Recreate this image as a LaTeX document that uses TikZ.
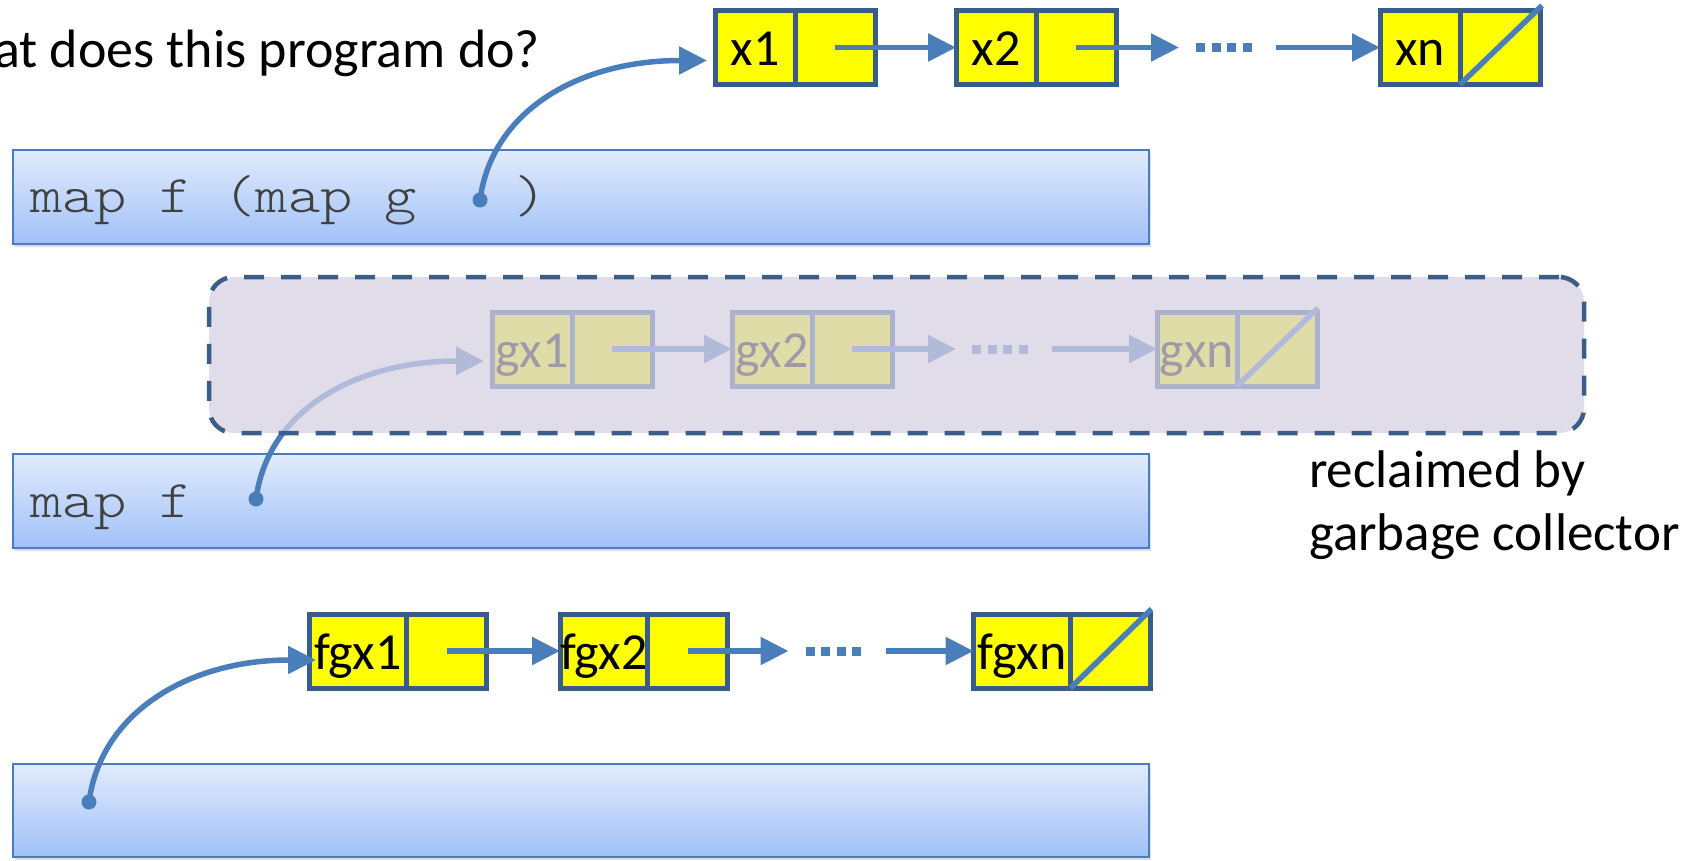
\documentclass[tikz,border=0pt]{standalone}
\usepackage{fontspec}
\setmainfont{Carlito}
\newfontfamily\codefont[FakeStretch = 1.16]{lmmonolt10-regular.otf}
\usetikzlibrary{positioning,arrows.meta,shadows}

\definecolor{cellfill}{RGB}{255,255,0}
\definecolor{cellline}{RGB}{56,93,138}
\definecolor{linkblue}{RGB}{74,126,187}
\definecolor{progtop}{RGB}{225,235,253}
\definecolor{progbottom}{RGB}{160,193,248}
\definecolor{codegray}{RGB}{64,64,64}
\definecolor{gcfill}{RGB}{214,208,227}
\definecolor{gcline}{RGB}{59,93,138}

\tikzset{
    every node/.style = {
        inner sep = 0pt,
        outer sep = 0pt
    },
    valcell/.style = {
        anchor = west,
        draw = cellline,
        line width = 5pt,
        fill = cellfill,
        minimum width = 80pt,
        minimum height = 74pt,
        text height = 37pt,
        text depth = 0pt
    },
    ptrcell/.style = {
        valcell
    },
    link/.style = {
        -{Triangle[length = 28pt, width = 27pt]},
        draw = linkblue,
        line width = 5.5pt
    },
    nil/.style = {
        draw = linkblue,
        line width = 5.5pt
    },
    dotsgap/.style = {
        minimum width = 56pt
    },
    dotline/.style = {
        draw = linkblue,
        line width = 9pt,
        dash pattern = on 9pt off 6.6pt
    },
    prog/.style = {
        anchor = north west,
        draw = linkblue,
        line width = 2pt,
        top color = progtop,
        bottom color = progbottom,
        minimum width = 1136pt,
        minimum height = 94pt,
        drop shadow = {shadow xshift = 1.5pt, shadow yshift = -3pt, opacity = 0.25}
    },
    code/.style = {
        anchor = base west,
        font = \fontsize{53}{60}\selectfont\codefont,
        text = codegray
    },
    root/.style = {
        circle,
        fill = linkblue,
        minimum size = 15pt
    },
    gcbox/.style = {
        draw = gcline,
        line width = 4.5pt,
        dash pattern = on 20pt off 17pt,
        rounded corners = 25pt,
        fill = gcfill,
        fill opacity = 0.74,
        minimum width = 1375pt,
        minimum height = 156pt
    },
    note/.style = {
        anchor = base west,
        align = left,
        font = \fontsize{53}{63}\selectfont
    }
}

\begin{document}
\begin{tikzpicture}[
        x = 1pt,
        y = -1pt,
        node distance = 0pt,
        font = \fontsize{52}{63}\selectfont
    ]
    \useasboundingbox (0,0) rectangle (1694,861);

    \node[prog] (prog1) at (13,150) {};
    \node[prog] (prog2) at (13,454) {};
    \node[prog, minimum height = 93pt] (prog3) at (13,764) {};
    \node[code] (code1) at (30,213) {map f (map g\ \ \ )};
    \node[code] (code2) at (30,517) {map f};
    \node[root] (root1) at (480,200) {};
    \node[root] (root2) at (256,499) {};
    \node[root] (root3) at (89,802) {};

    % xs
    \node[valcell] (x1) at (715,47.5) {x1};
    \node[ptrcell, right = of x1] (x1p) {};
    \node[valcell] (x2) at (956,47.5) {x2};
    \node[ptrcell, right = of x2] (x2p) {};
    \node[dotsgap] (xdots) at (1224,47.5) {};
    \node[valcell] (xn) at (1380,47.5) {xn};
    \node[ptrcell, right = of xn] (xnp) {};
    \draw[link] (x1p.center) -- (x2.west);
    \draw[link, shorten > = 17pt] (x2p.center) -- (xdots.west);
    \draw[dotline] (xdots.west) -- (xdots.east);
    \draw[link, shorten < = 24pt] (xdots.east) -- (xn.west);
    \draw[nil] (xnp.south west) -- ([xshift = 2pt, yshift = 5pt]xnp.north east);
    \draw[link] (root1.center) .. controls +(12,-90) and +(-127,0) .. ([xshift = -8pt, yshift = -13pt]x1.west);

    % map g xs
    \node[valcell] (gx1) at (492,349) {gx1};
    \node[ptrcell, right = of gx1] (gx1p) {};
    \node[valcell] (gx2) at (732,349) {gx2};
    \node[ptrcell, right = of gx2] (gx2p) {};
    \node[dotsgap] (gdots) at (1000,349) {};
    \node[valcell] (gxn) at (1157,349) {gxn};
    \node[ptrcell, right = of gxn] (gxnp) {};
    \draw[link] (gx1p.center) -- (gx2.west);
    \draw[link, shorten > = 16pt] (gx2p.center) -- (gdots.west);
    \draw[dotline] (gdots.west) -- (gdots.east);
    \draw[link, shorten < = 24pt] (gdots.east) -- (gxn.west);
    \draw[nil] (gxnp.south west) -- ([xshift = 1pt, yshift = 4pt]gxnp.north east);
    \draw[link] (root2.center) .. controls +(12,-90) and +(-127,0) .. ([xshift = -8pt, yshift = -12pt]gx1.west);

    \node[gcbox] (gc) at (896.5,355) {};
    \node[note] (gcnote) at (1309,550) {reclaimed by\\garbage collector};

    % map f (map g xs)
    \node[valcell, minimum width = 97pt] (fgx1) at (309.5,651) {fgx1};
    \node[ptrcell, right = of fgx1] (fgx1p) {};
    \node[valcell, minimum width = 86pt] (fgx2) at (560,651) {fgx2};
    \node[ptrcell, right = of fgx2] (fgx2p) {};
    \node[dotsgap] (fdots) at (833.5,651) {};
    \node[valcell, minimum width = 97pt] (fgxn) at (973.5,651) {fgxn};
    \node[ptrcell, right = of fgxn] (fgxnp) {};
    \draw[link] (fgx1p.center) -- (fgx2.west);
    \draw[link, shorten > = 17pt] (fgx2p.center) -- (fdots.west);
    \draw[dotline] (fdots.west) -- (fdots.east);
    \draw[link, shorten < = 24pt] (fdots.east) -- (fgxn.west);
    \draw[nil] (fgxnp.south west) -- ([xshift = 1pt, yshift = 5pt]fgxnp.north east);
    \draw[link] (root3.center) .. controls +(12,-90) and +(-127,0) .. ([xshift = 6.5pt, yshift = -9pt]fgx1.west);

    \node[anchor = base east, font = \fontsize{54}{63}\selectfont] (question) at (540,68) {What does this program do?};
\end{tikzpicture}
\end{document}
